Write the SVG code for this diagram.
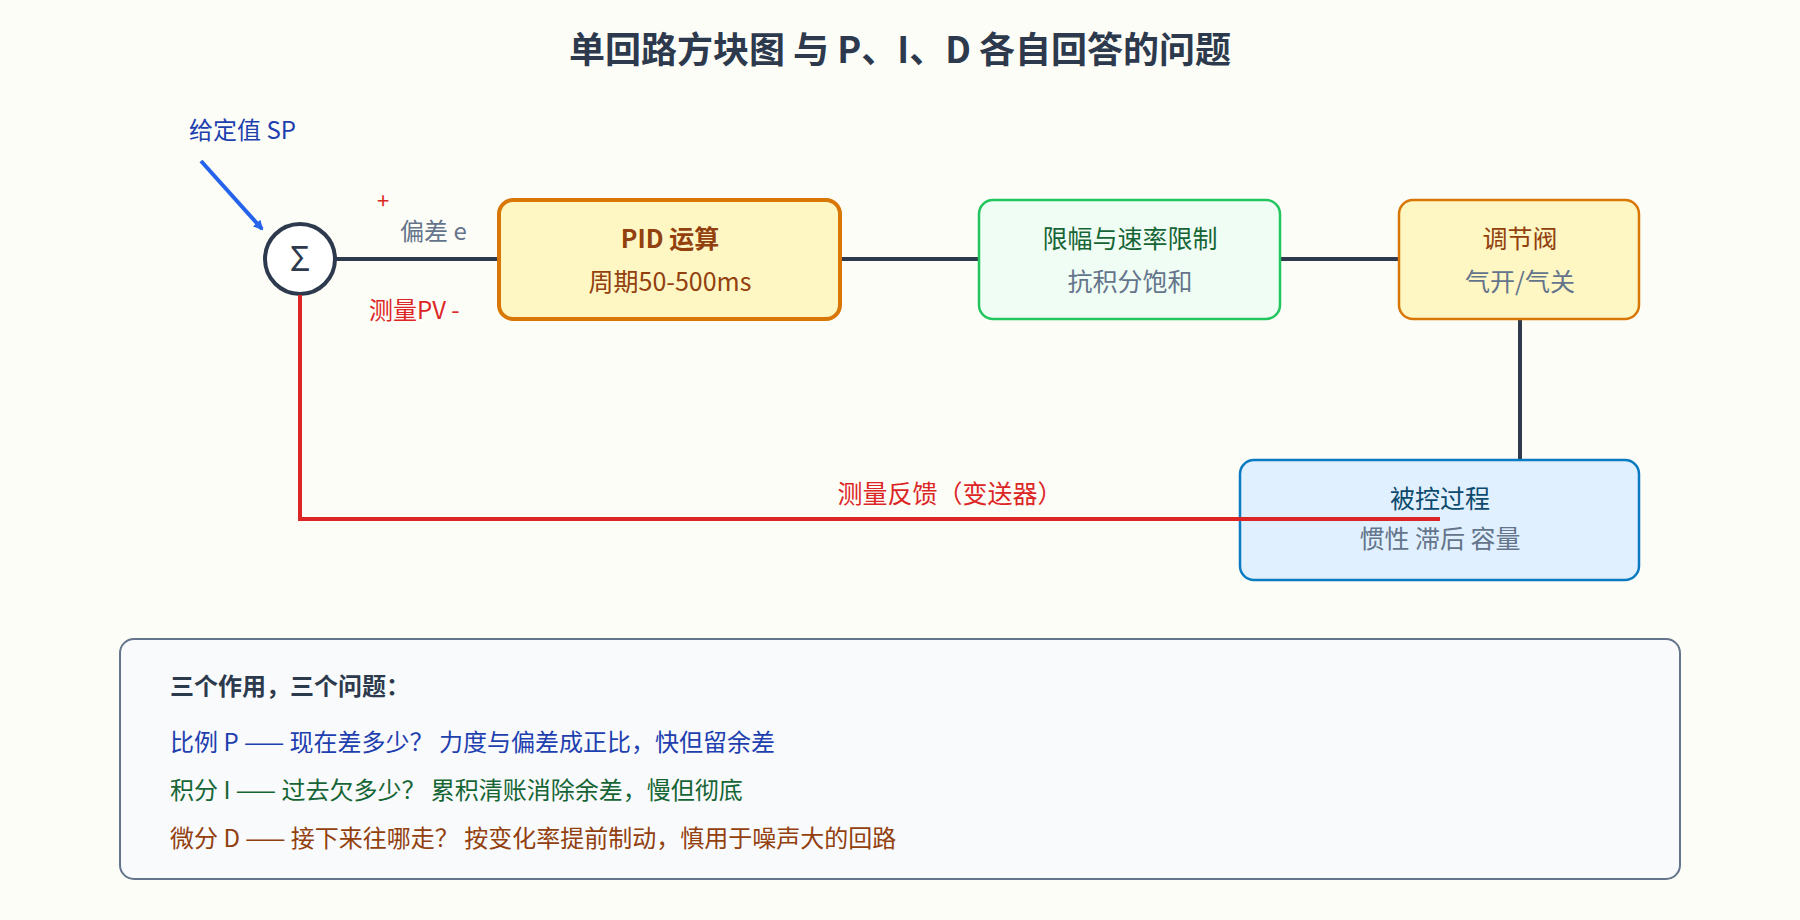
<svg xmlns="http://www.w3.org/2000/svg" width="1800" height="920" viewBox="0 0 1800 920">
<defs>
<style>
text{font-family:"Noto Sans CJK SC","Noto Sans",sans-serif;}
.c{text-anchor:middle;}
.ln{stroke:#2d3a4d;stroke-width:4;fill:none;}
</style>
<marker id="ab" markerWidth="10" markerHeight="10" refX="8" refY="5" orient="auto" markerUnits="userSpaceOnUse" viewBox="0 0 10 10"><path d="M0,0 L10,5 L0,10 z" fill="#2563eb"/></marker>
</defs>
<rect width="1800" height="920" fill="#fdfdf8"/>
<text x="900" y="63" class="c" font-size="36" font-weight="bold" fill="#2d3a4d">单回路方块图 与 P、I、D 各自回答的问题</text>
<g id="connectors">
<line x1="336" y1="259" x2="499" y2="259" class="ln"/>
<line x1="840" y1="259" x2="979" y2="259" class="ln"/>
<line x1="1280" y1="259" x2="1399" y2="259" class="ln"/>
<line x1="1520" y1="319" x2="1520" y2="460" class="ln"/>
<line x1="201" y1="161" x2="262" y2="229" stroke="#2563eb" stroke-width="4" marker-end="url(#ab)"/>
</g>
<g id="sp"><text x="189" y="139" font-size="24" fill="#1e40af">给定值 SP</text></g>
<g id="sum">
<circle cx="300" cy="259" r="35" fill="#fff" stroke="#2d3a4d" stroke-width="4"/>
<text x="300" y="271" class="c" font-size="34" fill="#2d3a4d">Σ</text>
</g>
<g id="labels">
<text x="383" y="209" class="c" font-size="22" fill="#dc2626">+</text>
<text x="400" y="240" font-size="24" fill="#64748b">偏差 e</text>
<text x="369" y="319" font-size="24" fill="#dc2626">测量PV  -</text>
</g>
<g id="pid">
<rect x="499" y="200" width="341" height="119" rx="14" fill="#fef7c3" stroke="#d97706" stroke-width="4"/>
<text x="670" y="248" class="c" font-size="25" font-weight="bold" fill="#92400e">PID 运算</text>
<text x="670" y="291" class="c" font-size="25" fill="#92400e">周期50-500ms</text>
</g>
<g id="limit">
<rect x="979" y="200" width="301" height="119" rx="14" fill="#f0fdf4" stroke="#22c55e" stroke-width="2.5"/>
<text x="1130" y="248" class="c" font-size="25" fill="#166534">限幅与速率限制</text>
<text x="1130" y="291" class="c" font-size="25" fill="#64748b">抗积分饱和</text>
</g>
<g id="valve">
<rect x="1399" y="200" width="240" height="119" rx="14" fill="#fef7c3" stroke="#d97706" stroke-width="2.5"/>
<text x="1520" y="248" class="c" font-size="25" fill="#92400e">调节阀</text>
<text x="1520" y="291" class="c" font-size="25" fill="#64748b">气开/气关</text>
</g>
<g id="process">
<rect x="1240" y="460" width="399" height="120" rx="14" fill="#e0f0fe" stroke="#0a7ac2" stroke-width="2.5"/>
<text x="1440" y="508" class="c" font-size="25" fill="#0c4a6e">被控过程</text>
<text x="1440" y="548" class="c" font-size="25" fill="#64748b">惯性 滞后 容量</text>
</g>
<g id="feedback">
<polyline points="1440,519 300,519 300,295" fill="none" stroke="#dc2626" stroke-width="4"/>
<text x="950" y="503" class="c" font-size="25" fill="#dc2626">测量反馈（变送器）</text>
</g>
<g id="notes">
<rect x="120" y="639" width="1560" height="240" rx="14" fill="#f8fafc" stroke="#64748b" stroke-width="2"/>
<text x="170" y="695" font-size="24" font-weight="bold" fill="#2d3a4d">三个作用，三个问题：</text>
<text x="170" y="751" font-size="24" fill="#1e40af">比例 P —— 现在差多少？ 力度与偏差成正比，快但留余差</text>
<text x="170" y="799" font-size="24" fill="#166534">积分 I —— 过去欠多少？ 累积清账消除余差，慢但彻底</text>
<text x="170" y="847" font-size="24" fill="#92400e">微分 D —— 接下来往哪走？ 按变化率提前制动，慎用于噪声大的回路</text>
</g>
</svg>
